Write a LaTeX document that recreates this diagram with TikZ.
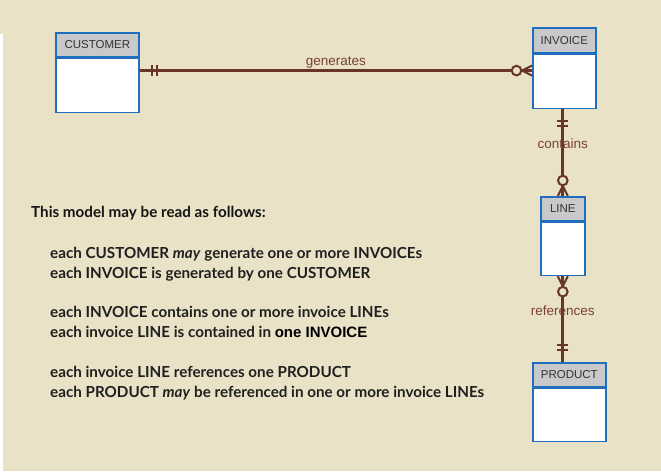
\documentclass[tikz,border=0pt]{standalone}
\usepackage{fontspec}
\setmainfont{Lato}
\newfontfamily\arialfont{Liberation Sans}
\usetikzlibrary{positioning}

\definecolor{bgbeige}{HTML}{E9E2C7}
\definecolor{relbrown}{HTML}{6A3529}
\definecolor{lblbrown}{HTML}{7B4035}
\definecolor{entblue}{HTML}{1F6FBF}
\definecolor{enthgray}{HTML}{C9C9CB}

\tikzset{
  enthead/.style={draw=entblue, fill=enthgray, line width=1.6pt, inner sep=0pt,
    minimum height=24pt, anchor=north west,
    font=\arialfont\fontsize{11.5}{12}\selectfont, text=black!80},
  entbody/.style={draw=entblue, fill=white, line width=1.6pt, inner sep=0pt,
    minimum height=54pt},
  relline/.style={draw=relbrown, line width=2.7pt},
  relmark/.style={draw=relbrown, line width=2pt},
  rellabel/.style={text=lblbrown, font=\arialfont\fontsize{13.5}{14}\selectfont, inner sep=1pt},
  readline/.style={anchor=base west, inner sep=0pt,
    font=\bfseries\fontsize{15.2}{16}\selectfont, text=black!88},
  pics/onlyone/.style={code={
    \draw[relmark] (12pt,-5.5pt) -- (12pt,5.5pt) (17pt,-5.5pt) -- (17pt,5.5pt);}},
  pics/zeromany/.style={code={
    \draw[relmark] (0pt,-5pt) -- (10pt,0pt) -- (0pt,5pt) (0pt,0pt) -- (10pt,0pt);
    \draw[relmark, fill=bgbeige] (15.5pt,0pt) circle (4.8pt);}}
}

\begin{document}
\begin{tikzpicture}[x=1pt,y=-1pt]
	\fill[bgbeige] (0,0) rectangle (661,471);
	\fill[white] (0,34) rectangle (2.5,471);
	% entities
	\node[enthead, minimum width=83pt] (cust) at (55,32) {CUSTOMER};
	\node[entbody, minimum width=83pt, below=0pt of cust] (custb) {};
	\node[enthead, minimum width=63pt, minimum height=25pt] (inv) at (532,27) {INVOICE};
	\node[entbody, minimum width=63pt, below=0pt of inv] (invb) {};
	\node[enthead, minimum width=44pt] (line) at (540,196) {LINE};
	\node[entbody, minimum width=44pt, minimum height=53pt, below=0pt of line] (lineb) {};
	\node[enthead, minimum width=73pt] (prod) at (532,362) {PRODUCT};
	\node[entbody, minimum width=73pt, minimum height=53pt, below=0pt of prod] (prodb) {};
	% relationships
	\coordinate (g1) at ([yshift=-13pt]custb.north east);
	\coordinate (g2) at (g1 -| invb.west);
	\draw[relline] (g1) -- node[rellabel, above=0pt] (lblgen) {generates} (g2);
	\pic at (g1) {onlyone};
	\pic[rotate=180] at (g2) {zeromany};
	\coordinate (c1) at (line.north |- invb.south);
	\draw[relline] (c1) -- node[rellabel, pos=0.4] (lblcont) {contains} (line.north);
	\pic[rotate=-90] at (c1) {onlyone};
	\pic[rotate=90] at (line.north) {zeromany};
	\coordinate (r2) at (lineb.south |- prod.north);
	\draw[relline] (lineb.south) -- node[rellabel, pos=0.4] (lblref) {references} (r2);
	\pic[rotate=-90] at (lineb.south) {zeromany};
	\pic[rotate=90] at (r2) {onlyone};
	% reading of the model
	\node[readline, text=black!92] (intro) at (31,217) {This model may be read as follows:};
	\node[readline] (read1a) at (50,258) {each CUSTOMER \textit{may} generate one or more INVOICEs};
	\node[readline] (read1b) at (50,278) {each INVOICE is generated by one CUSTOMER};
	\node[readline] (read2a) at (50,317) {each INVOICE contains one or more invoice LINEs};
	\node[readline] (read2b) at (50,337) {each invoice LINE is contained in {\arialfont\fontsize{15}{16}\selectfont\color{black}one INVOICE}};
	\node[readline] (read3a) at (50,377) {each invoice LINE references one PRODUCT};
	\node[readline] (read3b) at (50,397) {each PRODUCT \textit{may} be referenced in one or more invoice LINEs};
\end{tikzpicture}
\end{document}
